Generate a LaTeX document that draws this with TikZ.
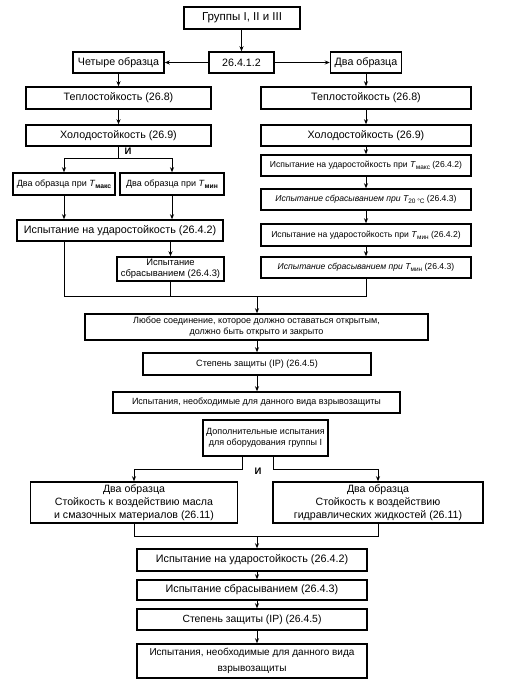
\documentclass[tikz,border=0pt]{standalone}
\usepackage{fontspec}
\setmainfont{Liberation Sans}
\usetikzlibrary{arrows.meta}
\newcommand\Tsb[1]{\textit{T}\raisebox{-0.45ex}{\scalebox{0.75}{#1}}}
\begin{document}
\begin{tikzpicture}[x=1pt,y=-1pt,
  box/.style={draw, line width=1.5pt, inner sep=0.5pt, align=center, font=\fontsize{10.7}{12}\selectfont},
  sm/.style={font=\fontsize{8.6}{10}\selectfont},
  ln/.style={line width=0.9pt},
  arr/.style={ln, -{Stealth[length=5pt,width=4pt]}}]
\useasboundingbox (0,0) rectangle (506,687);
\coordinate (ax) at (257,0);
% top
\node[box, font=\fontsize{11.5}{12}\selectfont, minimum width=116pt, minimum height=22pt] (grp) at (242,18) {Группы I, II и III};
\node[box, minimum width=65pt, minimum height=21pt] (n2641) at (241.5,62.5) {26.4.1.2};
\node[box, minimum width=91pt, minimum height=21pt] (four) at (118.5,62.5) {Четыре образца};
\node[box, minimum width=71pt, minimum height=21pt] (two) at (366,62.5) {Два образца};
% left column
\node[box, minimum width=185pt, minimum height=22pt] (teplL) at (118.5,98) {Теплостойкость (26.8)};
\node[box, minimum width=185pt, minimum height=21pt] (holL) at (118.5,135.5) {Холодостойкость (26.9)};
\node[box, font=\fontsize{9}{10}\selectfont, minimum width=102pt, minimum height=22pt] (dmaks) at (64,184) {Два образца при \Tsb{\textbf{макс}}};
\node[box, font=\fontsize{9}{10}\selectfont, minimum width=104pt, minimum height=22pt] (dmin) at (172,184) {Два образца при \Tsb{\textbf{мин}}};
\node[box, font=\fontsize{10.8}{12}\selectfont, minimum width=206pt, minimum height=21pt] (udL) at (120,230.5) {Испытание на ударостойкость (26.4.2)};
\node[box, font=\fontsize{9.4}{11}\selectfont, inner sep=0pt, minimum width=107pt, minimum height=24pt] (sbL) at (170.5,269) {Испытание\\сбрасыванием (26.4.3)};
% right column
\node[box, minimum width=210pt, minimum height=22pt] (teplR) at (366,98) {Теплостойкость (26.8)};
\node[box, minimum width=210pt, minimum height=21pt] (holR) at (366,135.5) {Холодостойкость (26.9)};
\node[box, sm, minimum width=210pt, minimum height=21pt] (r1) at (366,165.5) {Испытание на ударостойкость при \Tsb{макс} (26.4.2)};
\node[box, sm, minimum width=210pt, minimum height=21pt] (r2) at (366,199.5) {\itshape Испытание сбрасыванием при \Tsb{\upshape 20 °C} \upshape(26.4.3)};
\node[box, sm, minimum width=210pt, minimum height=22pt] (r3) at (366,235) {Испытание на ударостойкость при \Tsb{мин} (26.4.2)};
\node[box, sm, minimum width=210pt, minimum height=21pt] (r4) at (366,267.5) {\itshape Испытание сбрасыванием при \Tsb{\upshape мин} \upshape(26.4.3)};
% middle
\node[box, font=\fontsize{9}{11}\selectfont, minimum width=343pt, minimum height=26pt] (lub) at (256.5,327) {Любое соединение, которое должно оставаться открытым,\\должно быть открыто и закрыто};
\node[box, font=\fontsize{9.1}{11}\selectfont, minimum width=228pt, minimum height=22pt] (step1) at (257,364) {Степень защиты (IP) (26.4.5)};
\node[box, font=\fontsize{9}{11}\selectfont, minimum width=287pt, minimum height=21pt] (isp1) at (256.5,402.5) {Испытания, необходимые для данного вида взрывозащиты};
\node[box, font=\fontsize{9}{10.5}\selectfont, minimum width=125pt, minimum height=36pt] (dop) at (265.5,438) {Дополнительные испытания\\для оборудования группы I};
\node[box, font=\fontsize{10.6}{13}\selectfont, minimum width=207pt, minimum height=41pt] (oil) at (134,502.5) {Два образца\\Стойкость к воздействию масла\\и смазочных материалов (26.11)};
\node[box, font=\fontsize{10.6}{13}\selectfont, minimum width=210pt, minimum height=41pt] (hyd) at (378,502.5) {Два образца\\Стойкость к воздействию\\гидравлических жидкостей (26.11)};
% bottom
\node[box, font=\fontsize{10.8}{12}\selectfont, minimum width=230pt, minimum height=22pt] (b1) at (252,560) {Испытание на ударостойкость (26.4.2)};
\node[box, font=\fontsize{10.8}{12}\selectfont, minimum width=230pt, minimum height=20pt] (b2) at (252,590) {Испытание сбрасыванием (26.4.3)};
\node[box, font=\fontsize{10.4}{12}\selectfont, minimum width=230pt, minimum height=21pt] (b3) at (252,619.5) {Степень защиты (IP) (26.4.5)};
\node[box, font=\fontsize{10}{16}\selectfont, minimum width=230pt, minimum height=34pt] (b4) at (252,661) {Испытания, необходимые для данного вида\\взрывозащиты};
% labels
\node[font=\bfseries\fontsize{9.5}{10}\selectfont, inner sep=0] (iL) at (128,151.5) {И};
\node[font=\bfseries\fontsize{9.5}{10}\selectfont, inner sep=0] (iB) at (258,471) {И};
% coordinates
\coordinate (splitL) at (118.5,158);
\coordinate (merge1) at (257,296);
\coordinate (split2) at (0,469);
\coordinate (merge2) at (257,536);
\coordinate (dl) at (242,0);
\coordinate (dr) at (273,0);
% connectors top
\draw[arr] (grp.south -| n2641.north) -- (n2641.north);
\draw[arr] (n2641.west) -- (four.east);
\draw[arr] (n2641.east) -- (two.west);
\draw[arr] (four.south) -- (teplL.north);
\draw[arr] (teplL.south) -- (holL.north);
\draw[arr] (two.south) -- (teplR.north);
\draw[arr] (teplR.south) -- (holR.north);
\draw[arr] (holR.south) -- (r1.north);
\draw[arr] (r1.south) -- (r2.north);
\draw[arr] (r2.south) -- (r3.north);
\draw[arr] (r3.south) -- (r4.north);
% left split
\draw[ln] (holL.south) -- (splitL);
\draw[arr] (splitL) -| (dmaks.north);
\draw[arr] (splitL) -| (dmin.north);
\draw[arr] (dmaks.south) -- (dmaks.south |- udL.north);
\draw[arr] (dmin.south) -- (dmin.south |- udL.north);
\draw[arr] (sbL.north |- udL.south) -- (sbL.north);
% merge 1
\draw[ln] (dmaks.south |- udL.south) -- (dmaks.south |- merge1) -- (r4.south |- merge1) -- (r4.south);
\draw[ln] (sbL.south) -- (sbL.south |- merge1);
\draw[arr] (merge1) -- (merge1 |- lub.north);
\draw[arr] (lub.south -| ax) -- (step1.north -| ax);
\draw[arr] (step1.south -| ax) -- (isp1.north -| ax);
% split 2
\draw[arr] (dop.south -| dl) -- (dl |- split2) -| (oil.north);
\draw[arr] (dop.south -| dr) -- (dr |- split2) -| (hyd.north);
% merge 2
\draw[ln] (oil.south) -- (oil.south |- merge2) -- (hyd.south |- merge2) -- (hyd.south);
\draw[arr] (merge2) -- (merge2 |- b1.north);
\draw[arr] (b1.south -| ax) -- (b2.north -| ax);
\draw[arr] (b2.south -| ax) -- (b3.north -| ax);
\draw[arr] (b3.south -| ax) -- (b4.north -| ax);
\end{tikzpicture}
\end{document}
